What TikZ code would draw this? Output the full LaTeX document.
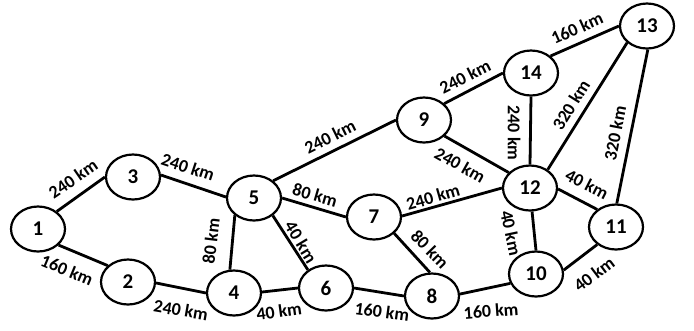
\documentclass[tikz,border=0pt]{standalone}
\usepackage{fontspec}
\setmainfont{Carlito}
\usetikzlibrary{shapes.geometric}
\begin{document}
\begin{tikzpicture}[x=1pt,y=-1pt,
  city/.style={ellipse, draw, line width=2.2pt, minimum width=54pt, minimum height=45pt, inner sep=0pt, fill=white, font=\fontsize{21}{21}\selectfont\bfseries},
  road/.style={line width=2.8pt},
  km/.style={font=\fontsize{18}{18}\selectfont\bfseries, inner sep=0pt}]
\useasboundingbox[fill=white] (0,0) rectangle (694,330);
% cities
\node[city] (n1)  at (38,229)  {1};
\node[city] (n2)  at (128,282) {2};
\node[city] (n3)  at (133,177) {3};
\node[city] (n4)  at (234,293) {4};
\node[city] (n5)  at (254,198) {5};
\node[city] (n6)  at (326,288) {6};
\node[city] (n7)  at (374,217) {7};
\node[city] (n8)  at (432,296) {8};
\node[city] (n9)  at (424,120) {9};
\node[city] (n10) at (536,274) {10};
\node[city] (n11) at (616,227) {11};
\node[city] (n12) at (530,188) {12};
\node[city] (n13) at (647,26)  {13};
\node[city] (n14) at (531,73)  {14};
% roads
\draw[road] (n1.43) -- (n3.180);
\draw[road] (n1.-38) -- (n2.141);
\draw[road] (n3.4) -- (n5.178);
\draw[road] (n2.-2) -- (n4.180);
\draw[road] (n5.222) -- (n4.100);
\draw[road] (n5.42) -- (n9.180);
\draw[road] (n5.0) -- (n7.180);
\draw[road] (n5.-43) -- (n6.135);
\draw[road] (n4.2) -- (n6.180);
\draw[road] (n6.0) -- (n8.180);
\draw[road] (n7.-39) -- (n8.95);
\draw[road] (n7.2) -- (n12.180);
\draw[road] (n9.39) -- (n14.180);
\draw[road] (n9.-38) -- (n12.144);
\draw[road] (n14.41) -- (n13.180);
\draw[road] (n14.-90) -- (n12.90);
\draw[road] (n12.46) -- (n13.220);
\draw[road] (n13.-88) -- (n11.88);
\draw[road] (n12.-2) -- (n11.137);
\draw[road] (n12.-85) -- (n10.90);
\draw[road] (n10.8) -- (n11.223);
\draw[road] (n8.4) -- (n10.200);
% distances
\node[km, rotate=34.5]  (l13)   at (73,179)  {240 km};
\node[km, rotate=-22.6] (l12)   at (67,270)  {160 km};
\node[km, rotate=-18.4] (l35)   at (188,167) {240 km};
\node[km, rotate=-9.8]  (l24)   at (181,310) {240 km};
\node[km, rotate=83]    (l45)   at (211,241) {80 km};
\node[km, rotate=-58.9] (l56)   at (301,242) {40 km};
\node[km, rotate=7.9]   (l46)   at (279,311) {40 km};
\node[km, rotate=-16.3] (l57)   at (315,195) {80 km};
\node[km, rotate=26.4]  (l59)   at (330,137) {240 km};
\node[km, rotate=-7.7]  (l68)   at (382,312) {160 km};
\node[km, rotate=-45.8] (l78)   at (430,249) {80 km};
\node[km, rotate=15.9]  (l712)  at (433,197) {240 km};
\node[km, rotate=4.2]   (l810)  at (491,311) {160 km};
\node[km, rotate=26.6]  (l914)  at (465,77)  {240 km};
\node[km, rotate=-29.4] (l912)  at (460,165) {240 km};
\node[km, rotate=24.1]  (l1413) at (577,28)  {160 km};
\node[km, rotate=-90]   (l1412) at (514,133) {240 km};
\node[km, rotate=58]    (l1213) at (571,105) {320 km};
\node[km, rotate=79]    (l1113) at (615,133) {320 km};
\node[km, rotate=-27.1] (l1211) at (587,184) {40 km};
\node[km, rotate=-78]   (l1210) at (511,233) {40 km};
\node[km, rotate=37]    (l1011) at (594,274) {40 km};
\end{tikzpicture}
\end{document}
